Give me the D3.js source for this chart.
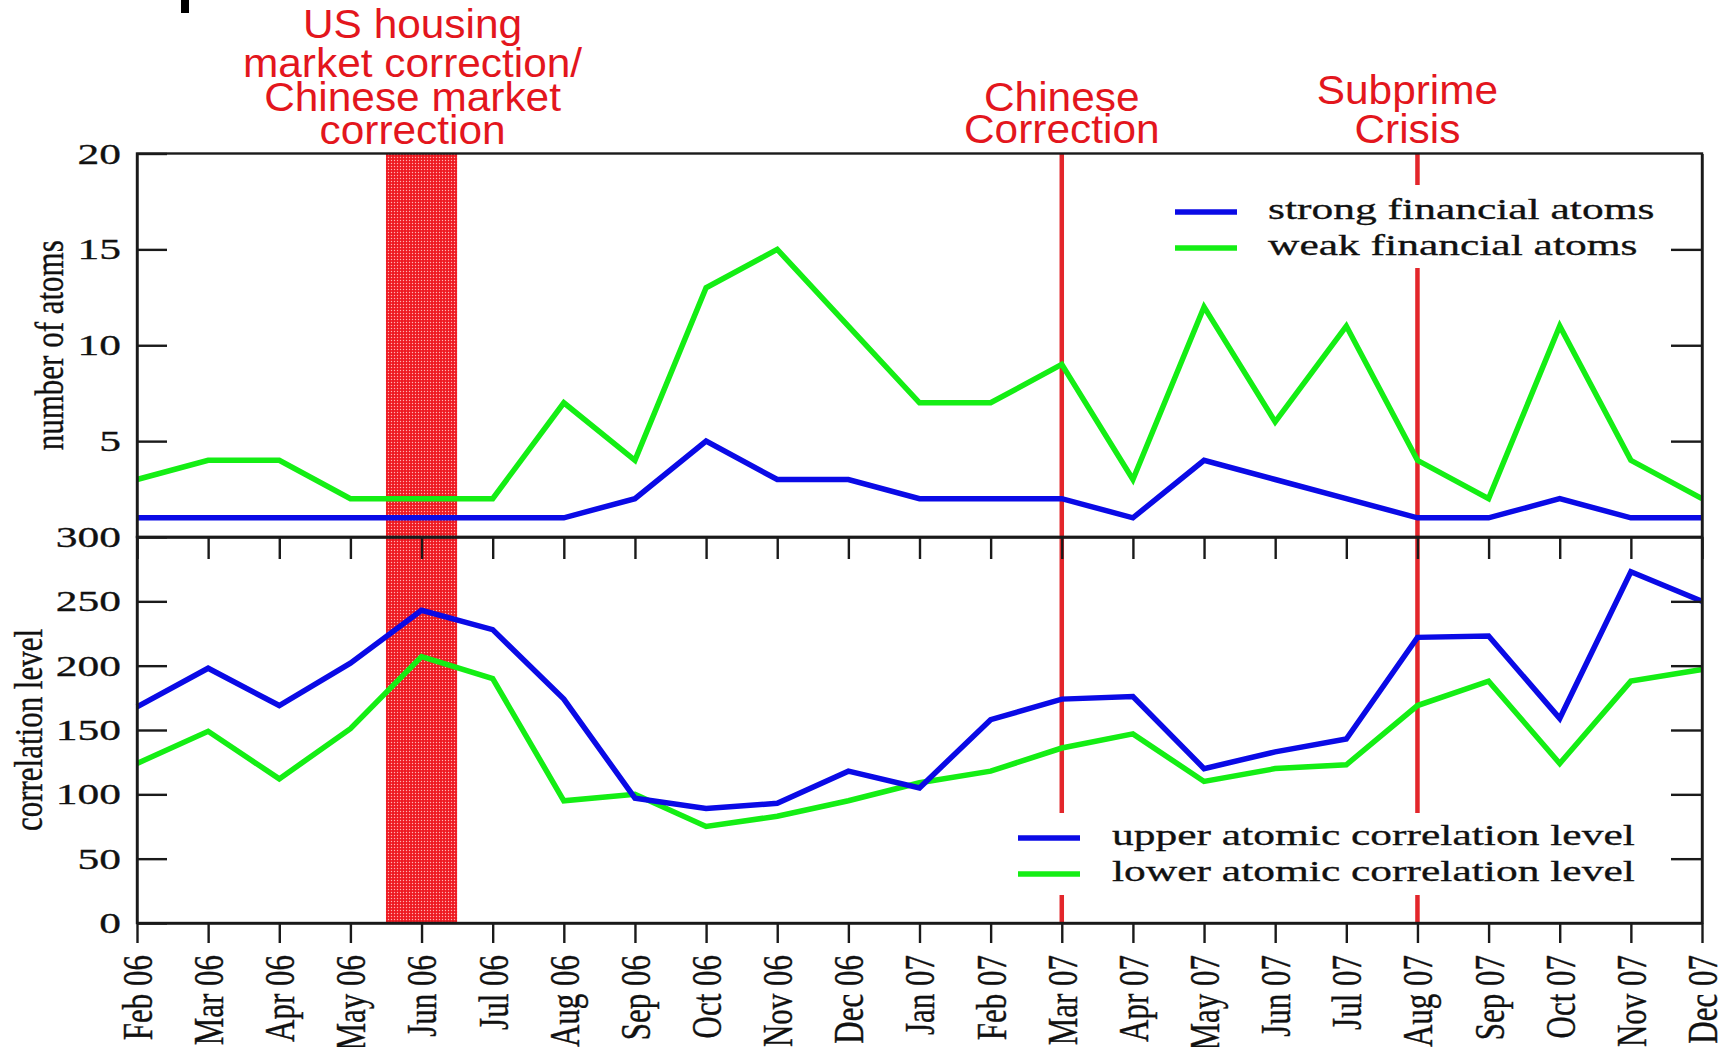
<!DOCTYPE html>
<html>
<head>
<meta charset="utf-8">
<title>Financial atoms and correlation levels</title>
<script src="https://d3js.org/d3.v7.min.js"></script>
<style>
  body { margin: 0; background: #fff; }
  .axis path, .axis line { stroke: #1a1a1a; stroke-width: 2.4px; }
  .axis text { font-family: "Liberation Serif", "DejaVu Serif", serif; fill: #111; stroke: #111; stroke-width: 0.3px; }
  .serif { font-family: "Liberation Serif", "DejaVu Serif", serif; fill: #111; stroke: #111; stroke-width: 0.3px; }
  .note { font-family: "Liberation Sans", Arial, sans-serif; fill: #e3161d; }
</style>
</head>
<body>
<div id="chart"></div>
<script>
// data
var months = ["Feb 06", "Mar 06", "Apr 06", "May 06", "Jun 06", "Jul 06", "Aug 06", "Sep 06",
  "Oct 06", "Nov 06", "Dec 06", "Jan 07", "Feb 07", "Mar 07", "Apr 07", "May 07", "Jun 07",
  "Jul 07", "Aug 07", "Sep 07", "Oct 07", "Nov 07", "Dec 07"];
var strongAtoms = [1, 1, 1, 1, 1, 1, 1, 2, 5, 3, 3, 2, 2, 2, 1, 4, 3, 2, 1, 1, 2, 1, 1];
var weakAtoms = [3, 4, 4, 2, 2, 2, 7, 4, 13, 15, 11, 7, 7, 9, 3, 12, 6, 11, 4, 2, 11, 4, 2];
var upperCorr = [168, 198, 169, 202, 243, 228, 174, 97, 89, 93, 118, 105, 158, 174, 176, 120, 133, 143, 222, 223, 159, 273, 250];
var lowerCorr = [124, 149, 112, 151, 207, 190, 95, 100, 75, 83, 95, 109, 118, 136, 147, 110, 120, 123, 169, 188, 124, 188, 197];
var atomTicks = [20, 15, 10, 5];
var corrTicks = [300, 250, 200, 150, 100, 50, 0];
var bandMonth = "Jun 06";
var bandLabel = ["US housing", "market correction/", "Chinese market", "correction"];
var eventMonths = ["Mar 07", "Aug 07"];
var eventLabels = [["Chinese", "Correction"], ["Subprime", "Crisis"]];

var width = 1719, height = 1047;
var plotL = 137, plotR = 1702, plotT = 153.5, plotM = 537, plotB = 923;
var blue = "#0a0ae6", green = "#14ee14", red = "#e3262b";

var svg = d3.select("#chart").append("svg")
  .attr("width", width)
  .attr("height", height);

var defs = svg.append("defs");
var pat = defs.append("pattern")
  .attr("id", "dots")
  .attr("patternUnits", "userSpaceOnUse")
  .attr("width", 3).attr("height", 3);
pat.append("rect").attr("width", 3).attr("height", 3).attr("fill", "#ee1a22");
pat.append("circle").attr("cx", 1.5).attr("cy", 1.5).attr("r", 0.7).attr("fill", "#ffb3b3");

var x = d3.scalePoint().domain(months).range([plotL, plotR]);
var yTop = d3.scaleLinear().domain([0, 20]).range([plotM, plotT]);
var yBot = d3.scaleLinear().domain([0, 300]).range([plotB, plotM]);

// shaded band around the housing correction
svg.append("rect")
  .attr("x", x(bandMonth) - x.step() / 2)
  .attr("y", yTop(20))
  .attr("width", x.step())
  .attr("height", yBot(0) - yTop(20))
  .attr("fill", "url(#dots)");

// event lines
svg.selectAll(".event")
  .data(eventMonths)
  .enter().append("line")
  .attr("class", "event")
  .attr("x1", function (d) { return x(d); })
  .attr("x2", function (d) { return x(d); })
  .attr("y1", yTop(20))
  .attr("y2", yBot(0))
  .attr("stroke", red)
  .attr("stroke-width", 4.5);

// series
var lineTop = d3.line()
  .x(function (d, i) { return x(months[i]); })
  .y(function (d) { return yTop(d); });
var lineBot = d3.line()
  .x(function (d, i) { return x(months[i]); })
  .y(function (d) { return yBot(d); });

[[weakAtoms, green, lineTop], [strongAtoms, blue, lineTop],
 [lowerCorr, green, lineBot], [upperCorr, blue, lineBot]].forEach(function (s) {
  svg.append("path")
    .datum(s[0])
    .attr("d", s[2])
    .attr("fill", "none")
    .attr("stroke", s[1])
    .attr("stroke-width", 5.5)
    .attr("stroke-linejoin", "miter");
});

// legends
function legend(box, entries, lx, tx, rows, bases) {
  svg.append("rect")
    .attr("x", box[0]).attr("y", box[1])
    .attr("width", box[2]).attr("height", box[3])
    .attr("fill", "#fff");
  entries.forEach(function (e, i) {
    svg.append("line")
      .attr("x1", lx).attr("x2", lx + 62)
      .attr("y1", rows[i]).attr("y2", rows[i])
      .attr("stroke", e[1]).attr("stroke-width", 5.5);
    svg.append("text")
      .attr("class", "serif")
      .attr("transform", "translate(" + tx + "," + bases[i] + ") scale(1.5,1)")
      .style("font-size", "29px")
      .text(e[0]);
  });
}
legend([1160, 185, 508, 83], [["strong financial atoms", blue], ["weak financial atoms", green]],
  1175, 1268, [212, 248], [219, 255]);
legend([1005, 813, 655, 82], [["upper atomic correlation level", blue], ["lower atomic correlation level", green]],
  1018, 1112, [838, 874], [845, 881]);

// frames
svg.append("rect")
  .attr("x", plotL).attr("y", plotT)
  .attr("width", plotR - plotL).attr("height", plotM - plotT)
  .attr("fill", "none").attr("stroke", "#1a1a1a").attr("stroke-width", 2.4);
svg.append("rect")
  .attr("x", plotL).attr("y", plotM)
  .attr("width", plotR - plotL).attr("height", plotB - plotM)
  .attr("fill", "none").attr("stroke", "#1a1a1a").attr("stroke-width", 2.4);

function stretchY(g) {
  g.selectAll("text").each(function () {
    var t = d3.select(this);
    t.attr("x", +t.attr("x") / 1.45).attr("transform", "scale(1.45,1)");
  });
  g.selectAll("text").style("font-size", "30px");
}

svg.append("g").attr("class", "axis")
  .attr("transform", "translate(" + plotL + ",0)")
  .call(d3.axisLeft(yTop).tickValues(atomTicks).tickSize(-30).tickSizeOuter(0).tickPadding(16))
  .call(stretchY);
svg.append("g").attr("class", "axis")
  .attr("transform", "translate(" + plotL + ",0)")
  .call(d3.axisLeft(yBot).tickValues(corrTicks).tickSize(-30).tickSizeOuter(0).tickPadding(16))
  .call(stretchY);
svg.append("g").attr("class", "axis")
  .attr("transform", "translate(" + plotR + ",0)")
  .call(d3.axisRight(yTop).tickValues(atomTicks.slice(1)).tickSize(-31).tickSizeOuter(0).tickFormat(""));
svg.append("g").attr("class", "axis")
  .attr("transform", "translate(" + plotR + ",0)")
  .call(d3.axisRight(yBot).tickValues(corrTicks.slice(1, -1)).tickSize(-31).tickSizeOuter(0).tickFormat(""));

svg.append("g").attr("class", "axis")
  .attr("transform", "translate(0," + plotM + ")")
  .call(d3.axisBottom(x).tickSize(22).tickSizeOuter(0).tickFormat(""));

var xAxis = svg.append("g").attr("class", "axis")
  .attr("transform", "translate(0," + plotB + ")")
  .call(d3.axisBottom(x).tickSize(20).tickSizeOuter(0).tickPadding(12));
xAxis.selectAll("text")
  .attr("x", -32)
  .attr("y", 0)
  .attr("dy", "0.35em")
  .attr("transform", "scale(1.33,1) rotate(-90)")
  .style("text-anchor", "end")
  .style("font-size", "31px");

// axis titles
[["number of atoms", 63, (plotT + plotM) / 2], ["correlation level", 42, (plotM + plotB) / 2]].forEach(function (t) {
  svg.append("text")
    .attr("class", "serif")
    .attr("transform", "translate(" + t[1] + "," + t[2] + ") scale(1.3,1) rotate(-90)")
    .style("text-anchor", "middle")
    .style("font-size", "31px")
    .text(t[0]);
});

// red annotations
function note(lines, cx, bases) {
  lines.forEach(function (s, i) {
    svg.append("text")
      .attr("class", "note")
      .attr("transform", "translate(" + cx + "," + bases[i] + ") scale(1.06,1)")
      .style("text-anchor", "middle")
      .style("font-size", "40px")
      .text(s);
  });
}
note(bandLabel, x(bandMonth) - 9, [38, 77, 111, 144]);
note(eventLabels[0], x(eventMonths[0]), [111, 143]);
note(eventLabels[1], x(eventMonths[1]) - 10, [104, 143]);

// small black mark at the top edge
svg.append("rect").attr("x", 181).attr("y", 0).attr("width", 8).attr("height", 13).attr("fill", "#000");
</script>
</body>
</html>
